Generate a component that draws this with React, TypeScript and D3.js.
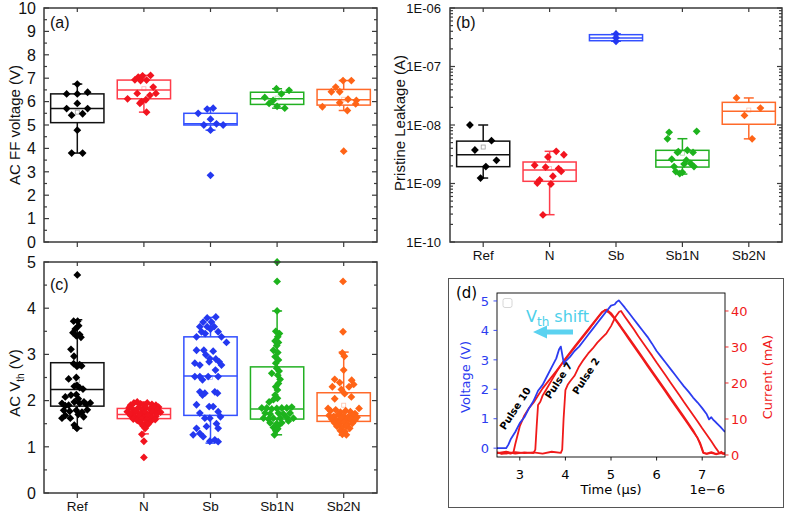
import React from 'react';
import * as d3 from 'd3';

const categories = ['Ref', 'N', 'Sb', 'Sb1N', 'Sb2N'];
const pointColors = ['#000000', '#f2141f', '#2438f0', '#1db31d', '#ff6417'];
const boxColors = ['#111111', '#ff3c4a', '#3350ff', '#22b022', '#ff6a2a'];

// ---------- Panel (a): AC FF voltage [jitter(category units), value] ----------
const ffRef = [[0,6.75],[-0.16,6.33],[0,6.33],[0.155,6.4],[0,5.92],[-0.16,5.7],[0.155,5.7],[-0.085,5.42],[0.08,5.48],[0,4.78],[-0.085,3.8],[0.08,3.8]];
const ffN = [[-0.135,6.93],[-0.085,7.05],[-0.02,7.1],[0.04,6.92],[0.1,7.12],[0.14,6.62],[-0.245,6.12],[-0.1,6.35],[-0.035,6.0],[-0.06,5.93],[0.03,6.08],[0.09,6.27],[0.18,6.35],[0.04,5.55],[-0.05,6.9]];
const ffSb = [[-0.185,5.5],[-0.05,5.68],[0.04,5.72],[0,5.25],[-0.1,5.0],[0.09,5.05],[0.19,5.0],[0,4.78],[0,2.85]];
const ffSb1N = [[-0.01,6.55],[0.18,6.48],[-0.185,6.18],[0.065,6.33],[-0.06,6.05],[-0.12,5.92],[0,5.8],[0.115,5.72]];
const ffSb2N = [[-0.01,6.9],[0.115,6.9],[-0.12,6.62],[-0.185,6.42],[-0.06,6.42],[0.065,6.1],[0.19,6.05],[-0.32,5.78],[-0.06,5.95],[0.18,5.9],[0.055,5.62],[0,3.88]];
// box stats: [whiskerLow, q1, median, q3, whiskerHigh, mean]
const ffBoxes = [[3.8,5.1,5.7,6.33,6.75,5.55],[5.55,6.12,6.5,6.92,7.12,6.55],[4.78,5.0,5.05,5.5,5.72,NaN],[5.72,5.88,6.12,6.4,6.55,6.15],[5.62,5.85,6.08,6.52,6.9,6.1]];
const ffTicks = [0,1,2,3,4,5,6,7,8,9,10];
const ffMinor = [0.5,1.5,2.5,3.5,4.5,5.5,6.5,7.5,8.5,9.5];

// ---------- Panel (b): Pristine leakage ----------
const leakRef = [[-0.2,1e-8],[-0.125,3.74e-9],[0.125,5.4e-9],[0.04,1.95e-9],[0.2,2.49e-9],[-0.04,1.24e-9]];
const leakN = [[0.1,3.55e-9],[-0.025,2.84e-9],[0.215,3.1e-9],[-0.225,2.05e-9],[-0.06,1.9e-9],[0.135,1.8e-9],[0.175,1.62e-9],[0.05,1.33e-9],[-0.15,1.15e-9],[-0.185,1.02e-9],[0.02,9.8e-10],[-0.1,2.9e-10]];
const leakSb = [[0,3.6e-7],[0,3.1e-7],[0,2.7e-7]];
const leakSb1N = [[-0.2,7.5e-9],[-0.225,5.8e-9],[0.215,7.8e-9],[-0.075,3.4e-9],[0.075,3.7e-9],[0.16,3.4e-9],[-0.16,2.6e-9],[0.06,2.5e-9],[-0.125,1.95e-9],[0.025,2.15e-9],[0.175,1.95e-9],[-0.1,1.6e-9],[-0.04,1.48e-9],[0,1.55e-9],[0.125,2.2e-9],[-0.06,3.5e-9]];
const leakSb2N = [[-0.185,2.9e-8],[0.175,1.95e-8],[-0.065,1.46e-8],[0.05,5.8e-9]];
const leakBoxes = [[1.24e-9,1.94e-9,3.1e-9,5.3e-9,1e-8,4.2e-9],[2.93e-10,1.09e-9,1.7e-9,2.33e-9,3.55e-9,1.8e-9],[2.7e-7,2.76e-7,3.07e-7,3.5e-7,3.6e-7,NaN],[1.45e-9,1.91e-9,2.5e-9,3.69e-9,5.83e-9,3.3e-9],[5.8e-9,1.03e-8,1.71e-8,2.44e-8,2.9e-8,1.8e-8]];
const leakTicks = [1e-10,1e-9,1e-8,1e-7,1e-6];
const leakTickLabels = ['1E-10','1E-09','1E-08','1E-07','1E-06'];

// ---------- Panel (c): AC Vth ----------
const vthRef = [[0,4.72],[-0.055,3.72],[0.005,3.72],[0.02,3.62],[-0.03,3.55],[-0.065,3.47],[0.035,3.43],[-0.015,3.40],[0.055,3.37],[-0.095,3.11],[-0.05,2.96],[-0.055,2.80],[0.035,2.78],[-0.005,2.74],[0.065,2.75],[-0.13,2.47],[-0.015,2.5],[-0.045,2.31],[0.035,2.28],[0.085,2.25],[-0.005,2.33],[-0.18,2.08],[-0.095,2.12],[-0.015,2.13],[0.015,2.04],[-0.23,1.94],[-0.13,1.90],[-0.045,1.97],[0.035,1.94],[0.135,1.92],[0.195,1.95],[-0.18,1.89],[0.1,1.97],[-0.205,1.79],[-0.115,1.77],[-0.015,1.79],[0.07,1.75],[0.15,1.8],[-0.23,1.62],[-0.105,1.62],[0.095,1.65],[-0.18,1.68],[0.015,1.70],[-0.045,1.47],[-0.005,1.40],[-0.025,1.43]];
const vthN = [[-0.2,1.9],[-0.15,1.95],[-0.1,1.97],[-0.05,1.93],[0,1.9],[0.05,1.95],[0.12,1.92],[0.18,1.9],[0.22,1.86],[-0.22,1.85],[-0.17,1.82],[-0.08,1.85],[-0.02,1.8],[0.03,1.84],[0.09,1.82],[0.15,1.85],[0.2,1.8],[-0.25,1.76],[-0.18,1.74],[-0.12,1.77],[-0.05,1.72],[0.02,1.75],[0.08,1.7],[0.13,1.76],[0.19,1.72],[0.25,1.75],[-0.2,1.68],[-0.14,1.65],[-0.07,1.67],[0,1.64],[0.06,1.68],[0.12,1.63],[0.18,1.66],[-0.16,1.6],[-0.1,1.57],[-0.03,1.6],[0.04,1.58],[0.1,1.55],[0.17,1.59],[-0.05,1.52],[0.03,1.5],[0.06,1.48],[-0.01,1.45],[0.02,1.4],[-0.03,1.27],[0,1.12],[0,0.77]];
const vthSb = [[-0.05,3.79],[0.08,3.81],[-0.11,3.7],[0.015,3.7],[-0.16,3.6],[-0.05,3.6],[0.055,3.6],[0,3.55],[-0.08,3.45],[0.115,3.49],[-0.135,3.49],[0.165,3.38],[0.24,3.26],[-0.21,3.38],[-0.21,3.09],[-0.1,3.09],[0.04,3.07],[-0.07,2.99],[-0.01,2.91],[0.08,2.9],[-0.235,2.81],[-0.16,2.77],[-0.02,2.84],[0.13,2.84],[0.165,2.77],[0.075,2.66],[-0.235,2.52],[-0.16,2.52],[-0.035,2.52],[0.115,2.52],[-0.12,2.45],[-0.16,2.19],[-0.085,2.16],[-0.12,2.12],[0.065,2.19],[0.105,2.16],[-0.21,1.91],[-0.02,1.87],[0.04,1.87],[-0.16,1.73],[-0.085,1.62],[0.115,1.76],[0.15,1.65],[-0.01,1.62],[0.09,1.5],[-0.21,1.40],[-0.16,1.29],[-0.06,1.44],[0.115,1.40],[-0.26,1.26],[-0.11,1.22],[-0.01,1.12],[0.065,1.15],[0.115,1.11]];
const vthSb1N = [[0,5.0],[0,4.58],[0,3.94],[-0.02,3.5],[0.035,3.45],[0.01,3.38],[-0.03,3.29],[0.02,3.26],[-0.005,3.19],[-0.055,3.09],[0.01,3.04],[-0.03,2.95],[0.02,2.88],[-0.02,2.81],[-0.005,2.70],[0.03,2.64],[-0.08,2.59],[0.01,2.55],[0.045,2.46],[0.02,2.37],[-0.02,2.30],[0.005,2.23],[-0.03,2.12],[0.005,2.05],[-0.12,1.97],[-0.055,2.02],[-0.23,1.84],[-0.155,1.84],[-0.08,1.82],[-0.005,1.83],[0.07,1.84],[0.145,1.84],[0.22,1.86],[-0.18,1.73],[-0.105,1.71],[0.02,1.73],[0.095,1.71],[0.195,1.73],[-0.205,1.62],[-0.13,1.6],[-0.055,1.62],[0.045,1.62],[0.145,1.64],[0.245,1.62],[-0.105,1.52],[-0.005,1.50],[0.07,1.52],[0.17,1.56],[-0.055,1.42],[0.02,1.46],[-0.02,1.35],[0.01,1.39],[-0.04,1.26]];
const vthSb2N = [[-0.01,4.58],[-0.01,3.49],[-0.02,3.03],[0.01,2.96],[0,2.66],[-0.135,2.46],[-0.17,2.30],[-0.06,2.39],[0.12,2.44],[0.15,2.35],[0.08,2.3],[-0.035,2.24],[0.015,2.15],[0.115,2.08],[-0.135,2.04],[-0.235,1.83],[0.23,1.83],[-0.2,1.78],[-0.12,1.8],[-0.05,1.75],[0.03,1.78],[0.1,1.76],[0.17,1.72],[-0.22,1.68],[-0.15,1.66],[-0.08,1.7],[0,1.67],[0.07,1.65],[0.14,1.68],[0.2,1.64],[-0.18,1.6],[-0.11,1.58],[-0.04,1.61],[0.03,1.57],[0.1,1.6],[0.17,1.58],[-0.14,1.52],[-0.07,1.5],[0,1.53],[0.06,1.49],[0.13,1.51],[-0.1,1.44],[-0.03,1.42],[0.04,1.45],[0.09,1.4],[-0.05,1.35],[0.02,1.33],[-0.02,1.27],[0.04,1.26]];
const vthBoxes = [[1.40,1.88,2.24,2.82,3.75,2.43],[1.28,1.61,1.70,1.83,1.97,1.72],[1.08,1.68,2.53,3.38,3.8,2.5],[1.26,1.60,1.82,2.73,3.94,NaN],[1.25,1.55,1.67,2.17,3.05,1.9]];
const vthTicks = [0,1,2,3,4,5];
const vthMinor = [0.5,1.5,2.5,3.5,4.5];

// ---------- Panel (d): waveforms (time in µs) ----------
const voltageT = [2.5,2.6,2.7,2.75,2.8,2.9,3.0,3.1,3.2,3.3,3.4,3.5,3.6,3.7,3.8,3.86,3.9,3.94,3.97,4.0,4.1,4.2,4.3,4.4,4.5,4.6,4.7,4.8,4.9,5.0,5.08,5.12,5.17,5.22,5.3,5.4,5.5,5.6,5.7,5.8,5.9,6.0,6.1,6.2,6.3,6.4,6.5,6.6,6.7,6.8,6.9,7.0,7.1,7.15,7.2,7.25,7.3,7.4,7.5];
const voltageV = [0,0,0,0.12,0.3,0.55,0.85,1.05,1.35,1.6,1.95,2.15,2.45,2.75,3.05,3.35,3.45,3.1,2.85,2.95,3.1,3.3,3.45,3.65,3.85,4.05,4.25,4.45,4.65,4.84,4.88,4.96,5.02,4.93,4.78,4.58,4.38,4.18,3.98,3.78,3.55,3.3,3.1,2.9,2.7,2.5,2.3,2.1,1.92,1.72,1.55,1.36,1.15,0.98,1.05,0.95,0.88,0.72,0.55];
const pulse10T = [2.5,2.6,2.7,2.8,2.86,2.9,2.95,3.0,3.05,3.1,3.2,3.3,3.4,3.5,3.6,3.7,3.8,3.9,4.0,4.1,4.2,4.3,4.4,4.5,4.6,4.7,4.8,4.87,4.95,5.0,5.1,5.2,5.3,5.4,5.5,5.6,5.7,5.8,5.9,6.0,6.1,6.2,6.3,6.4,6.5,6.6,6.7,6.8,6.9,6.97,7.02,7.1,7.2,7.3,7.4,7.5];
const pulse10I = [0.8,0.3,0.6,0.4,0.7,3,5.5,8,9.5,11,13,14.5,16.5,18.5,20.1,21.7,23.3,25,26.6,28.2,29.8,31.4,33,34.6,36.3,37.9,39.5,40.3,39.6,39,37.5,35.7,33.9,32,30.2,28.4,26.6,24.7,22.9,21.1,19.3,17.5,15.6,13.8,12,10.2,8.4,6.5,4.7,2.5,0.6,0.3,0.6,0.2,0.5,0.3];
const pulse7T = [2.5,2.7,2.9,3.1,3.3,3.34,3.37,3.4,3.45,3.5,3.6,3.7,3.8,3.9,4.0,4.2,4.4,4.6,4.8,4.9,5.0,5.2,5.4,5.6,5.8,6.0,6.2,6.4,6.6,6.8,6.95,7.03,7.1,7.2,7.3,7.4,7.5];
const pulse7I = [0.5,0.9,0.4,0.7,0.5,1.5,8,13.9,14.8,16.5,18.6,20.8,23.0,24.9,26.8,30.1,33.3,36.5,39.7,40.4,39.4,36,32.4,28.8,25.1,21.5,17.9,14.2,10.6,6.9,3.5,0.6,0.4,0.8,0.3,0.6,0.4];
const pulse2T = [2.5,2.7,2.9,3.1,3.3,3.5,3.7,3.9,3.93,3.96,4.0,4.05,4.1,4.2,4.3,4.4,4.5,4.6,4.7,4.8,4.9,5.0,5.1,5.18,5.22,5.3,5.4,5.5,5.6,5.7,5.8,5.9,6.0,6.1,6.2,6.3,6.4,6.5,6.6,6.7,6.8,6.9,7.0,7.1,7.2,7.3,7.38,7.42,7.46,7.5];
const pulse2I = [0.6,0.4,0.8,0.5,0.7,0.4,0.9,0.6,1.5,10,18,19.5,20.4,22,24.6,26.5,28.2,29.6,31.2,32.5,33.8,35.8,38.4,39.8,40,38.5,36.7,34.9,33.0,31.2,29.4,27.6,25.7,23.9,22.1,20.2,18.4,16.6,14.7,12.9,11.1,9.3,7.4,5.6,3.8,1.9,0.5,0.9,0.3,0.6];
const timeTicks = [3,4,5,6,7];
const voltTicks = [0,1,2,3,4,5];
const currTicks = [0,10,20,30,40];
const pulseLabels = ['Pulse 10', 'Pulse 7', 'Pulse 2'];
const pulseLabelAt = [[2.9, 1.35], [3.85, 2.3], [4.45, 2.45]];

const SANS = 'Liberation Sans, Arial, sans-serif';
const MPL = 'DejaVu Sans, sans-serif';
const AX = '#3a3a3a';

const diamond = (cx, cy, r) => `M${cx},${cy - r}L${cx + r},${cy}L${cx},${cy + r}L${cx - r},${cy}Z`;

function BoxPanel({ x0, x1, y, groups, boxes, majors, minors, tickLabels, fontSize, labelX, catLabels }) {
  const x = d3.scaleLinear().domain([0.5, 5.5]).range([x0, x1]);
  const [yb, yt] = y.range();
  const hw = 0.4, cw = 0.075;
  return (
    <g>
      {boxes.map((b, i) => {
        const c = i + 1;
        const col = boxColors[i];
        return (
          <g key={'b' + i} stroke={col} strokeWidth={1.5} fill="none">
            <line x1={x(c)} x2={x(c)} y1={y(b[0])} y2={y(b[1])} />
            <line x1={x(c)} x2={x(c)} y1={y(b[3])} y2={y(b[4])} />
            <line x1={x(c - cw)} x2={x(c + cw)} y1={y(b[0])} y2={y(b[0])} />
            <line x1={x(c - cw)} x2={x(c + cw)} y1={y(b[4])} y2={y(b[4])} />
            <rect x={x(c - hw)} y={y(b[3])} width={x(c + hw) - x(c - hw)} height={Math.max(1, y(b[1]) - y(b[3]))} />
            <line x1={x(c - hw)} x2={x(c + hw)} y1={y(b[2])} y2={y(b[2])} />
            {isFinite(b[5]) && (
              <rect x={x(c) - 2} y={y(b[5]) - 2} width={4} height={4} stroke={col} strokeOpacity={0.4} strokeWidth={0.8} />
            )}
          </g>
        );
      })}
      {groups.map((pts, i) => (
        <g key={'p' + i} fill={pointColors[i]}>
          {pts.map((p, j) => (
            <path key={j} d={diamond(x(i + 1 + p[0]), y(p[1]), 3.9)} />
          ))}
        </g>
      ))}
      <rect x={x0} y={yt} width={x1 - x0} height={yb - yt} fill="none" stroke={AX} strokeWidth={1.5} />
      <g stroke={AX} strokeWidth={1.2}>
        {majors.map((m, k) => (
          <g key={'M' + k}>
            <line x1={x0} x2={x0 + 5} y1={y(m)} y2={y(m)} />
            <line x1={x1} x2={x1 - 5} y1={y(m)} y2={y(m)} />
          </g>
        ))}
        {minors.map((m, k) => (
          <g key={'m' + k}>
            <line x1={x0} x2={x0 + 3} y1={y(m)} y2={y(m)} />
            <line x1={x1} x2={x1 - 3} y1={y(m)} y2={y(m)} />
          </g>
        ))}
        {categories.map((c, i) => (
          <g key={'c' + i}>
            <line x1={x(i + 1)} x2={x(i + 1)} y1={yb} y2={yb + 5} />
            <line x1={x(i + 1)} x2={x(i + 1)} y1={yt} y2={yt + 4} />
          </g>
        ))}
      </g>
      <g fontFamily={SANS} fontSize={fontSize} fill="#111" textAnchor="end">
        {majors.map((m, k) => (
          <text key={k} x={labelX} y={y(m)} dy="0.36em">{tickLabels[k]}</text>
        ))}
      </g>
      {catLabels && (
        <g fontFamily={SANS} fontSize={13.5} fill="#111" textAnchor="middle">
          {categories.map((c, i) => (
            <text key={c} x={x(i + 1)} y={yb + 18}>{c}</text>
          ))}
        </g>
      )}
    </g>
  );
}

function PanelD() {
  const xT = d3.scaleLinear().domain([2.5, 7.5]).range([497, 725]);
  const yV = d3.scaleLinear().domain([-0.3, 5.27]).range([457, 293]);
  const yI = d3.scaleLinear().domain([-0.56, 45]).range([457, 293]);
  const lineV = d3.line().x((d) => xT(d[0])).y((d) => yV(d[1]));
  const lineI = d3.line().x((d) => xT(d[0])).y((d) => yI(d[1]));
  const zip = (a, b) => a.map((t, i) => [t, b[i]]);
  const blue = '#2c3cf0', red = '#f01a1a';
  return (
    <g>
      <rect x={448.5} y={278.5} width={335} height={229} fill="none" stroke="#555" strokeWidth={1} />
      <defs>
        <clipPath id="clipD"><rect x={497} y={293} width={228} height={164} /></clipPath>
      </defs>
      <g clipPath="url(#clipD)" fill="none" strokeWidth={1.8} strokeLinejoin="round">
        <path d={lineI(zip(pulse10T, pulse10I))} stroke={red} />
        <path d={lineI(zip(pulse7T, pulse7I))} stroke={red} />
        <path d={lineI(zip(pulse2T, pulse2I))} stroke={red} />
        <path d={lineV(zip(voltageT, voltageV))} stroke={blue} />
      </g>
      <rect x={497} y={293} width={228} height={164} fill="none" stroke="#000" strokeWidth={0.9} />
      <rect x={503} y={298.5} width={9} height={9} rx={2} fill="#fff" stroke="#ccc" strokeWidth={0.8} />
      <g strokeWidth={0.9}>
        {timeTicks.map((t) => <line key={t} x1={xT(t)} x2={xT(t)} y1={457} y2={460.5} stroke="#000" />)}
        {voltTicks.map((v) => <line key={v} x1={497} x2={493.5} y1={yV(v)} y2={yV(v)} stroke={blue} />)}
        {currTicks.map((v) => <line key={v} x1={725} x2={728.5} y1={yI(v)} y2={yI(v)} stroke={red} />)}
      </g>
      <g fontFamily={MPL} fontSize={13}>
        {timeTicks.map((t) => <text key={t} x={xT(t)} y={479} textAnchor="middle" fill="#000">{t}</text>)}
        {voltTicks.map((v) => <text key={v} x={489} y={yV(v)} dy="0.36em" textAnchor="end" fill={blue}>{v}</text>)}
        {currTicks.map((v) => <text key={v} x={731} y={yI(v)} dy="0.36em" textAnchor="start" fill={red}>{v}</text>)}
        <text x={611} y={494} textAnchor="middle" fill="#000">Time (μs)</text>
        <text x={725} y={494} textAnchor="end" fill="#000">1e−6</text>
        <text transform="translate(470,377) rotate(-90)" textAnchor="middle" fill={blue}>Voltage (V)</text>
        <text transform="translate(772,377) rotate(-90)" textAnchor="middle" fill={red}>Current (mA)</text>
        <text x={456} y={298} fontSize={15} fill="#000">(d)</text>
      </g>
      <g fontFamily={MPL} fontSize={10} fontWeight="bold" fill="#000">
        {pulseLabels.map((p, i) => (
          <text key={p} transform={`translate(${xT(pulseLabelAt[i][0])},${yV(pulseLabelAt[i][1])}) rotate(-57)`} textAnchor="middle" dy="0.35em">{p}</text>
        ))}
      </g>
      <text x={526} y={322} fontFamily={MPL} fontSize={16} fill="#4dd0ea">
        V<tspan fontSize={12} dy={4}>th</tspan><tspan dy={-4}> shift</tspan>
      </text>
      <path d="M533,332 L547,325.5 L547,329.5 L573,329.5 L573,334.5 L547,334.5 L547,338.5 Z" fill="#5bd2f0" />
    </g>
  );
}

export default function App() {
  const yA = d3.scaleLinear().domain([0, 10]).range([242, 8]);
  const yB = d3.scaleLog().domain([1e-10, 1e-6]).range([242, 8]);
  const yC = d3.scaleLinear().domain([0, 5]).range([493, 262]);
  const logMinor = [];
  for (let e = -10; e < -6; e++) for (let k = 2; k <= 9; k++) logMinor.push(k * Math.pow(10, e));
  return (
    <svg width={786} height={515} style={{ position: 'absolute', left: 0, top: 0, background: '#fff' }}>
      <rect width={786} height={515} fill="#fff" />
      <BoxPanel x0={44} x1={377} y={yA} groups={[ffRef, ffN, ffSb, ffSb1N, ffSb2N]} boxes={ffBoxes}
        majors={ffTicks} minors={ffMinor} tickLabels={ffTicks.map(String)} fontSize={16} labelX={36} catLabels={false} />
      <BoxPanel x0={450} x1={782} y={yB} groups={[leakRef, leakN, leakSb, leakSb1N, leakSb2N]} boxes={leakBoxes}
        majors={leakTicks} minors={logMinor} tickLabels={leakTickLabels} fontSize={13} labelX={441} catLabels={true} />
      <BoxPanel x0={44} x1={377} y={yC} groups={[vthRef, vthN, vthSb, vthSb1N, vthSb2N]} boxes={vthBoxes}
        majors={vthTicks} minors={vthMinor} tickLabels={vthTicks.map(String)} fontSize={16} labelX={36} catLabels={true} />
      <g fontFamily={SANS} fill="#111">
        <text transform="translate(20,125) rotate(-90)" textAnchor="middle" fontSize={15}>AC FF voltage (V)</text>
        <text transform="translate(405,123) rotate(-90)" textAnchor="middle" fontSize={15}>Pristine Leakage (A)</text>
        <text transform="translate(20,383) rotate(-90)" textAnchor="middle" fontSize={15}>
          AC V<tspan fontSize={10} dy={4}>th</tspan><tspan dy={-4}> (V)</tspan>
        </text>
        <text x={50} y={28} fontSize={16}>(a)</text>
        <text x={456} y={28} fontSize={16}>(b)</text>
        <text x={50} y={290} fontSize={16}>(c)</text>
      </g>
      <PanelD />
    </svg>
  );
}
